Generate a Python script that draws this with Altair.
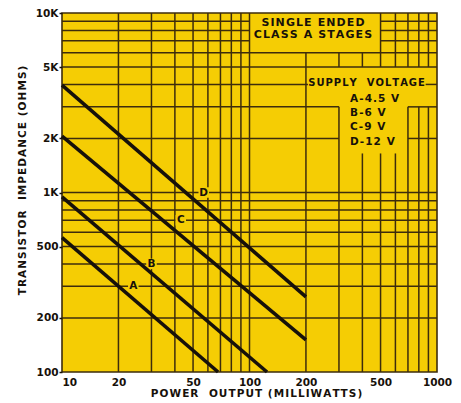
import altair as alt
import pandas as pd

YELLOW = "#F5CD04"
INK = "#17110a"
GRID = "#3d2c0c"
FONT = "DejaVu Sans"
HS = "\u200a"  # hair space, for the wide lettering of the original


def spaced(s):
    return HS.join(s)


# ---- curves: endpoints (power mW, impedance ohms)
curve_name = ["A", "A", "B", "B", "C", "C", "D", "D"]
curve_mw = [10, 68, 10, 124, 10, 200, 10, 200]
curve_ohm = [560, 100, 944, 100, 2060, 151, 3970, 262]

# ---- letters on the curves
letter = ["A", "B", "C", "D"]
letter_mw = [24, 30, 43, 57]
letter_ohm = [300, 400, 700, 1000]

# ---- axis ticks
x_ticks = [10, 20, 50, 100, 200, 500, 1000]
y_ticks = [100, 200, 500, 1000, 2000, 5000, 10000]

# ---- grid segments (hand drawn sheet: some lines stop at the notes)
# vertical: (mW, from ohms, to ohms)
v_grid = [
    (20, 100, 10000), (30, 100, 10000), (40, 100, 10000), (50, 100, 10000),
    (60, 100, 10000), (70, 100, 10000), (80, 100, 10000), (90, 100, 10000),
    (100, 100, 10000),
    (200, 100, 6000),
    (300, 100, 3000), (300, 5000, 6000),
    (400, 100, 1650), (400, 5000, 6000),
    (500, 100, 1650), (500, 5000, 10000),
    (600, 100, 1650), (600, 5000, 10000),
    (700, 100, 3000), (700, 5000, 10000),
    (800, 100, 3000), (800, 5000, 10000),
    (900, 100, 3000), (900, 5000, 10000),
]
# horizontal: (ohms, from mW, to mW)
h_grid = [
    (200, 10, 1000), (300, 10, 1000), (400, 10, 1000), (500, 10, 1000),
    (600, 10, 1000), (700, 10, 1000), (800, 10, 1000), (900, 10, 1000),
    (1000, 10, 1000),
    (2000, 10, 300), (2000, 700, 1000),
    (3000, 10, 300), (3000, 700, 1000),
    (4000, 10, 205), (4000, 870, 1000),
    (5000, 10, 1000), (6000, 10, 1000),
    (7000, 10, 100), (7000, 500, 1000),
    (8000, 10, 100), (8000, 500, 1000),
    (9000, 10, 100), (9000, 500, 1000),
]

# ---- notes
note_text = ["SINGLE ENDED", "CLASS A STAGES", "SUPPLY  VOLTAGE"]
note_mw = [218, 218, 421]
note_ohm = [8800, 7540, 4050]
note_size = [11, 11, 10]

legend_text = ["A-4.5 V", "B-6 V", "C-9 V", "D-12 V"]
legend_mw = [344, 344, 344, 344]
legend_ohm = [3320, 2773, 2317, 1912]

x_title = "POWER  OUTPUT (MILLIWATTS)"
y_title = "TRANSISTOR  IMPEDANCE (OHMS)"

xs = alt.Scale(type="log", domain=[10, 1000])
ys = alt.Scale(type="log", domain=[100, 10000])

curves = pd.DataFrame({"name": curve_name, "mw": curve_mw, "ohm": curve_ohm})
letters = pd.DataFrame({"t": letter, "mw": letter_mw, "ohm": letter_ohm})
vg = pd.DataFrame(v_grid, columns=["mw", "ohm", "ohm2"])
hg = pd.DataFrame(h_grid, columns=["ohm", "mw", "mw2"])
notes = pd.DataFrame({"t": [spaced(t) for t in note_text], "mw": note_mw,
                      "ohm": note_ohm, "fs": note_size})
legend = pd.DataFrame({"t": [spaced(t) for t in legend_text], "mw": legend_mw, "ohm": legend_ohm})

x_axis = alt.Axis(
    values=x_ticks, grid=False, domain=False, ticks=False,
    labelFont=FONT, labelFontSize=10.5, labelFontWeight="bold", labelColor=INK,
    labelPadding=5,
    labelAlign={"condition": {"test": "datum.value == 10", "value": "left"}, "value": "center"},
    labelExpr="format(datum.value, 'd')",
    title=spaced(x_title), titleFont=FONT, titleFontSize=10.5,
    titleFontWeight="bold", titleColor=INK, titleX=194, titleY=21,
    titleBaseline="middle", titleAlign="center",
)
y_axis = alt.Axis(
    values=y_ticks, grid=False, domain=False, ticks=True, tickSize=3,
    tickColor=INK, tickWidth=1.5,
    labelFont=FONT, labelFontSize=10.5, labelFontWeight="bold", labelColor=INK,
    labelPadding=1,
    labelExpr="datum.value >= 1000 ? format(datum.value / 1000, 'd') + 'K' : format(datum.value, 'd')",
    title=spaced(y_title), titleFont=FONT, titleFontSize=10.5,
    titleFontWeight="bold", titleColor=INK, titleAngle=270, titleX=-40, titleY=167,
    titleBaseline="middle", titleAlign="center",
)

X = lambda f="mw:Q": alt.X(f, scale=xs, axis=x_axis)
Y = lambda f="ohm:Q": alt.Y(f, scale=ys, axis=y_axis)

vlayer = alt.Chart(vg).mark_rule(color=GRID, strokeWidth=1.5).encode(
    x=X(), y=Y(), y2="ohm2:Q",
)
hlayer = alt.Chart(hg).mark_rule(color=GRID, strokeWidth=1.5).encode(
    x=X(), x2="mw2:Q", y=Y(),
)
letter_bg = alt.Chart(letters).mark_square(size=110, color=YELLOW, opacity=1).encode(
    x=X(), y=Y(),
)
lines = alt.Chart(curves).mark_line(color=INK, strokeWidth=3.6).encode(
    x=X(), y=Y(), detail="name:N",
)
letter_txt = alt.Chart(letters).mark_text(
    font=FONT, fontSize=10.5, fontWeight="bold", color=INK, align="center", baseline="middle"
).encode(x=X(), y=Y(), text="t:N")
note_txt = alt.Chart(notes).mark_text(
    font=FONT, fontWeight="bold", color=INK, align="center", baseline="middle"
).encode(x=X(), y=Y(), text="t:N", size=alt.Size("fs:Q", scale=None, legend=None))
legend_txt = alt.Chart(legend).mark_text(
    font=FONT, fontSize=10.5, fontWeight="bold", color=INK, align="left", baseline="middle"
).encode(x=X(), y=Y(), text="t:N")

chart = alt.layer(vlayer, hlayer, letter_bg, lines, letter_txt, note_txt, legend_txt).properties(
    width=375, height=359,
    padding={"left": 54, "top": 5, "right": 16, "bottom": 31},
    autosize=alt.AutoSizeParams(type="none"),
    background="white",
).configure_view(fill=YELLOW, stroke=GRID, strokeWidth=1.6)

chart.save("out.html", embed_options={"renderer": "svg", "actions": False})
